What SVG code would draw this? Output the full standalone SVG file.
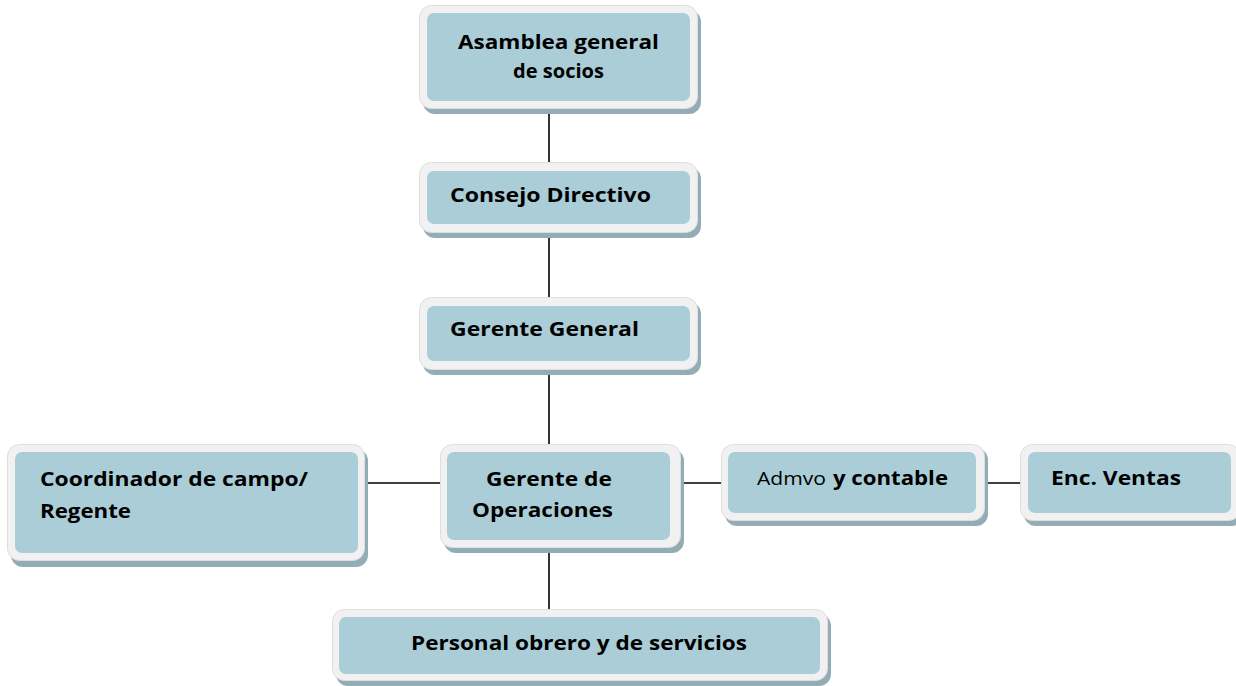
<svg xmlns="http://www.w3.org/2000/svg" width="1236" height="686" viewBox="0 0 1236 686">
<style>
.sh{fill:#93adb6}
.ou{fill:#f1f1f1;stroke:#dedede;stroke-width:1}
.in{fill:#aacdd7}
.t{font-family:"Open Sans",Lato,sans-serif;font-weight:bold;font-size:19px;fill:#000}
.n{font-weight:normal}
.c{stroke:#000;stroke-width:1.6;fill:none}
</style>
<rect width="1236" height="686" fill="#fff"/>
<g id="connectors">
<line class="c" x1="549" y1="110" x2="549" y2="164"/>
<line class="c" x1="549" y1="233" x2="549" y2="299"/>
<line class="c" x1="549" y1="370" x2="549" y2="446"/>
<line class="c" x1="549" y1="548" x2="549" y2="612"/>
<line class="c" x1="365" y1="483" x2="443" y2="483"/>
<line class="c" x1="677" y1="483" x2="724" y2="483"/>
<line class="c" x1="981" y1="483" x2="1022" y2="483"/>
</g>
<g id="asamblea">
<rect class="sh" x="423" y="10" width="278" height="104" rx="12"/>
<rect class="ou" x="419.5" y="5.5" width="278" height="103" rx="12"/>
<rect class="in" x="427" y="13" width="263" height="88" rx="7"/>
<text class="t" x="458" y="49" textLength="201" lengthAdjust="spacingAndGlyphs">Asamblea general</text>
<text class="t" x="513" y="78" font-size="17" textLength="91" lengthAdjust="spacingAndGlyphs">de socios</text>
</g>
<g id="consejo">
<rect class="sh" x="423" y="167" width="278" height="71" rx="12"/>
<rect class="ou" x="419.5" y="162.5" width="278" height="70" rx="12"/>
<rect class="in" x="427" y="171" width="263" height="53" rx="7"/>
<text class="t" x="450" y="202" textLength="201" lengthAdjust="spacingAndGlyphs">Consejo Directivo</text>
</g>
<g id="gerente-general">
<rect class="sh" x="423" y="302" width="278" height="73" rx="12"/>
<rect class="ou" x="419.5" y="297.5" width="278" height="72" rx="12"/>
<rect class="in" x="427" y="306" width="263" height="55" rx="7"/>
<text class="t" x="450" y="336" textLength="189" lengthAdjust="spacingAndGlyphs">Gerente General</text>
</g>
<g id="coordinador">
<rect class="sh" x="11" y="449" width="357" height="118" rx="12"/>
<rect class="ou" x="7.5" y="444.5" width="357" height="116" rx="12"/>
<rect class="in" x="15" y="452" width="343" height="101" rx="7"/>
<text class="t" x="40" y="486" textLength="268" lengthAdjust="spacingAndGlyphs">Coordinador de campo/</text>
<text class="t" x="40" y="518" textLength="91" lengthAdjust="spacingAndGlyphs">Regente</text>
</g>
<g id="gerente-operaciones">
<rect class="sh" x="444" y="449" width="240" height="104" rx="12"/>
<rect class="ou" x="440.5" y="444.5" width="240" height="103" rx="12"/>
<rect class="in" x="447" y="452" width="223" height="88" rx="7"/>
<text class="t" x="486" y="486" textLength="126" lengthAdjust="spacingAndGlyphs">Gerente de</text>
<text class="t" x="472" y="517" textLength="141" lengthAdjust="spacingAndGlyphs">Operaciones</text>
</g>
<g id="admvo">
<rect class="sh" x="725" y="448" width="263" height="78" rx="12"/>
<rect class="ou" x="721.5" y="444.5" width="263" height="76" rx="12"/>
<rect class="in" x="728" y="452" width="248" height="61" rx="7"/>
<text class="t" x="757" y="485"><tspan class="n" textLength="69" lengthAdjust="spacingAndGlyphs">Admvo</tspan><tspan x="833" textLength="115" lengthAdjust="spacingAndGlyphs">y contable</tspan></text>
</g>
<g id="ventas">
<rect class="sh" x="1024" y="448" width="220" height="78" rx="12"/>
<rect class="ou" x="1020.5" y="444.5" width="220" height="76" rx="12"/>
<rect class="in" x="1028" y="452" width="203" height="61" rx="7"/>
<text class="t" x="1051" y="485" textLength="130" lengthAdjust="spacingAndGlyphs">Enc. Ventas</text>
</g>
<g id="personal">
<rect class="sh" x="336" y="614" width="495" height="72" rx="12"/>
<rect class="ou" x="332.5" y="609.5" width="495" height="71" rx="12"/>
<rect class="in" x="339" y="617" width="481" height="57" rx="7"/>
<text class="t" x="411" y="650" textLength="336" lengthAdjust="spacingAndGlyphs">Personal obrero y de servicios</text>
</g>
</svg>
